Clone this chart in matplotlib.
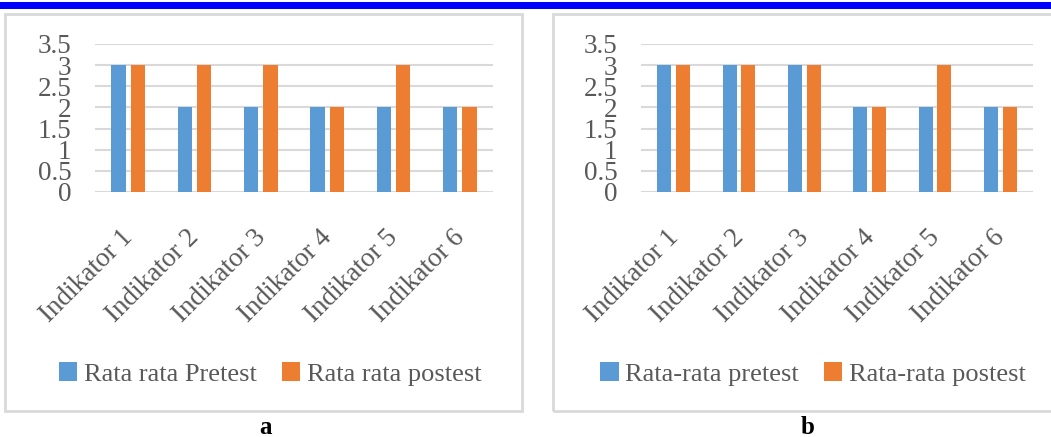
import matplotlib.pyplot as plt
from matplotlib.patches import Rectangle
import matplotlib.transforms as mtransforms
import numpy as np

plt.rcParams['font.family'] = ['Liberation Serif', 'DejaVu Serif']

categories = ['Indikator 1', 'Indikator 2', 'Indikator 3', 'Indikator 4', 'Indikator 5', 'Indikator 6']
pre_a = [3, 2, 2, 2, 2, 2]
post_a = [3, 3, 3, 2, 3, 2]
pre_b = [3, 3, 3, 2, 2, 2]
post_b = [3, 3, 3, 2, 3, 2]
labels_a = ['Rata rata Pretest', 'Rata rata postest']
labels_b = ['Rata-rata pretest', 'Rata-rata postest']
yticks = [0, 0.5, 1, 1.5, 2, 2.5, 3, 3.5]
ytick_labels = ['0', '0.5', '1', '1.5', '2', '2.5', '3', '3.5']

blue = '#5B9BD5'
orange = '#ED7D31'
grey_text = '#595959'
grid_c = '#D9D9D9'

W, H = 1051, 437
fig = plt.figure(figsize=(W / 100, H / 100), dpi=100)

# top blue band and panel frames
fig.patches.append(Rectangle((0, 1 - 9 / H), 1, 7 / H, transform=fig.transFigure,
                             facecolor='#0000FF', edgecolor='none'))
fig.patches.append(Rectangle((5 / W, 1 - 411 / H), 517 / W, 397 / H, transform=fig.transFigure,
                             facecolor='none', edgecolor=grid_c, lw=2))
fig.patches.append(Rectangle((553 / W, 1 - 411 / H), 510 / W, 397 / H, transform=fig.transFigure,
                             facecolor='none', edgecolor=grid_c, lw=2))


def panel(left_px, right_px, pre, post, labels, legend_x, cap, cap_x):
    ax = fig.add_axes([left_px / W, 1 - 192 / H, (right_px - left_px) / W, 148 / H])
    x = np.arange(len(categories))
    w = 0.215
    ax.bar(x - 0.145, pre, w, color=blue, label=labels[0], zorder=3)
    ax.bar(x + 0.145, post, w, color=orange, label=labels[1], zorder=3)
    ax.set_xlim(-0.5, len(categories) - 0.5)
    ax.set_ylim(0, 3.5)
    ax.set_yticks(yticks)
    ax.set_yticklabels(ytick_labels)
    ax.yaxis.grid(True, color=grid_c, lw=1.5, zorder=0)
    ax.set_axisbelow(True)
    for s in ax.spines.values():
        s.set_visible(False)
    ax.tick_params(axis='both', length=0, colors=grey_text, labelsize=19.5)
    ax.tick_params(axis='y', pad=17)
    ax.set_xticks(x)
    ax.set_xticklabels(categories, rotation=45, ha='right', rotation_mode='default')
    ax.tick_params(axis='x', pad=24)
    shift = mtransforms.ScaledTranslation(7 / 72, 0, fig.dpi_scale_trans)
    for lab in ax.get_xticklabels():
        lab.set_transform(lab.get_transform() + shift)
    ax.legend(loc='center', bbox_to_anchor=(legend_x / W, 1 - 374 / H),
              bbox_transform=fig.transFigure, ncol=2, frameon=False,
              fontsize=19, labelcolor=grey_text, handlelength=0.7, handleheight=0.7,
              handletextpad=0.25, columnspacing=0.95)
    fig.text(cap_x / W, 1 - 427 / H, cap, ha='center', va='center',
             fontsize=18, fontweight='bold', color='black')
    return ax


panel(95, 493, pre_a, post_a, labels_a, 270, 'a', 265)
panel(641, 1033, pre_b, post_b, labels_b, 813, 'b', 808)

fig.savefig('out.png', dpi=100)
